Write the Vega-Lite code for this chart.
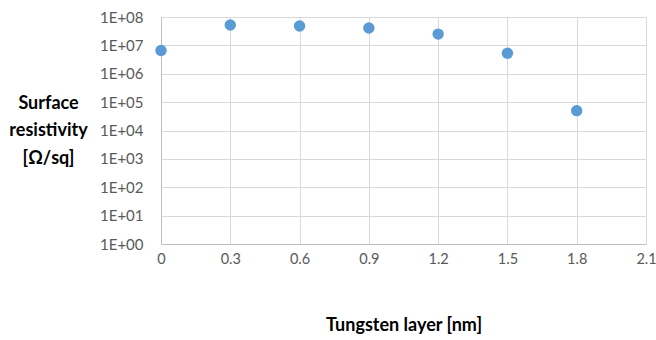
{
  "$schema": "https://vega.github.io/schema/vega-lite/v6.json",
  "autosize": "none",
  "width": 485,
  "height": 227,
  "padding": {"left": 161, "top": 17, "right": 10, "bottom": 96},
  "background": "white",
  "config": {
    "view": {"stroke": null},
    "font": "Lato"
  },
  "data": {
    "values": [
      {"tungsten": 0, "resistivity": 6600000},
      {"tungsten": 0.3, "resistivity": 52000000},
      {"tungsten": 0.6, "resistivity": 48000000},
      {"tungsten": 0.9, "resistivity": 41000000},
      {"tungsten": 1.2, "resistivity": 25000000},
      {"tungsten": 1.5, "resistivity": 5300000},
      {"tungsten": 1.8, "resistivity": 50000}
    ]
  },
  "mark": {"type": "point", "shape": "circle", "filled": true, "size": 130, "color": "#5B9BD5", "opacity": 1},
  "encoding": {
    "x": {
      "field": "tungsten",
      "type": "quantitative",
      "scale": {"domain": [0, 2.1], "nice": false, "zero": false},
      "axis": {
        "values": [0, 0.3, 0.6, 0.9, 1.2, 1.5, 1.8, 2.1],
        "labelExpr": "datum.value == 0 ? '0' : format(datum.value, '.1f')",
        "title": "Tungsten layer [nm]",
        "titleFont": "Lato",
        "titleFontWeight": "bold",
        "titleFontSize": 18,
        "titleColor": "#000000",
        "titlePadding": 51,
        "labelFontSize": 14.5,
        "labelColor": "#595959",
        "labelPadding": 8,
        "ticks": false,
        "grid": true,
        "gridColor": "#D9D9D9",
        "domainColor": "#BFBFBF",
        "labelFlush": false
      }
    },
    "y": {
      "field": "resistivity",
      "type": "quantitative",
      "scale": {"type": "log", "domain": [1, 100000000], "nice": false},
      "axis": {
        "values": [1, 10, 100, 1000, 10000, 100000, 1000000, 10000000, 100000000],
        "labelExpr": "'1E+0' + round(log(datum.value) / LN10)",
        "title": ["Surface", "resistivity", "[Ω/sq]"],
        "titleAngle": 0,
        "titleAlign": "center",
        "titleBaseline": "middle",
        "titleX": -113,
        "titleY": 86,
        "titleLineHeight": 27.5,
        "titleFont": "Lato",
        "titleFontWeight": "bold",
        "titleFontSize": 18,
        "titleColor": "#000000",
        "labelFontSize": 15,
        "labelColor": "#595959",
        "labelPadding": 18,
        "ticks": false,
        "grid": true,
        "gridColor": "#D9D9D9",
        "domainColor": "#BFBFBF",
        "labelFlush": false
      }
    }
  }
}
